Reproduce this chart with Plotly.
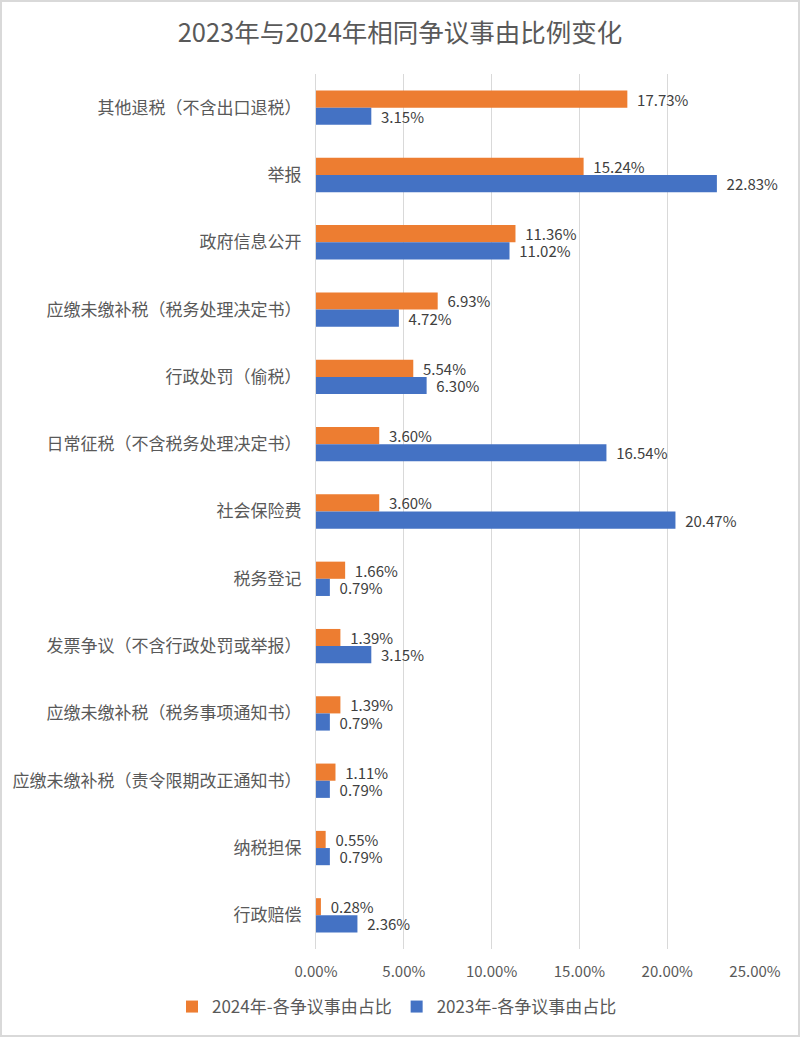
import plotly.graph_objects as go

categories = [
    "其他退税（不含出口退税）",
    "举报",
    "政府信息公开",
    "应缴未缴补税（税务处理决定书）",
    "行政处罚（偷税）",
    "日常征税（不含税务处理决定书）",
    "社会保险费",
    "税务登记",
    "发票争议（不含行政处罚或举报）",
    "应缴未缴补税（税务事项通知书）",
    "应缴未缴补税（责令限期改正通知书）",
    "纳税担保",
    "行政赔偿",
]
values_2024 = [17.73, 15.24, 11.36, 6.93, 5.54, 3.60, 3.60, 1.66, 1.39, 1.39, 1.11, 0.55, 0.28]
values_2023 = [3.15, 22.83, 11.02, 4.72, 6.30, 16.54, 20.47, 0.79, 3.15, 0.79, 0.79, 0.79, 2.36]
name_2024 = "2024年-各争议事由占比"
name_2023 = "2023年-各争议事由占比"
tick_vals = [0, 5, 10, 15, 20, 25]
tick_text = ["0.00%", "5.00%", "10.00%", "15.00%", "20.00%", "25.00%"]

FONT = "Noto Sans CJK SC"
TXT = "#595959"
PAD = "\u00a0\u00a0"

fig = go.Figure()
for name, vals, col in [(name_2024, values_2024, "#ED7D31"), (name_2023, values_2023, "#4472C4")]:
    fig.add_trace(go.Bar(
        y=categories, x=vals, name=name, orientation="h",
        marker=dict(color=col, line=dict(width=0)),
        text=[f"{PAD}{v:.2f}%" for v in vals], textposition="outside",
        constraintext="none",
        textfont=dict(size=15, color="#404040", family=FONT), cliponaxis=False,
    ))

L, R, T, B = 316, 45, 74, 88
W, H = 800, 1037
pw, ph = W - L - R, H - T - B

fig.update_layout(
    width=W, height=H,
    margin=dict(l=L, r=R, t=T, b=B),
    barmode="group", bargap=0.49, bargroupgap=0,
    paper_bgcolor="white", plot_bgcolor="white",
    font=dict(family=FONT, color=TXT, size=15),
    title=dict(text="2023年与2024年相同争议事由比例变化", x=0.5, xref="container",
               xanchor="center", y=1 - 33 / H, yref="container", yanchor="middle",
               font=dict(size=25.5, color=TXT, family=FONT)),
    legend=dict(orientation="h", x=(172 - L) / pw, xref="paper", xanchor="left",
                y=-(1007 - (H - B)) / ph, yref="paper", yanchor="middle",
                font=dict(size=17, color=TXT, family=FONT), traceorder="normal",
                itemwidth=30),
)
fig.update_xaxes(
    range=[0, 25], tickvals=tick_vals, ticktext=tick_text,
    showgrid=True, gridcolor="#D9D9D9", gridwidth=1,
    zeroline=False, showline=False, ticks="",
    tickfont=dict(size=15, color=TXT, family=FONT), ticklabelstandoff=12,
)
fig.update_yaxes(
    autorange="reversed", showline=True, linecolor="#D9D9D9", linewidth=1,
    ticks="", tickfont=dict(size=17, color=TXT, family=FONT), ticklabelstandoff=10,
)
fig.add_shape(type="rect", xref="paper", yref="paper",
              x0=-(L - 1) / pw, x1=(W - L - 1) / pw,
              y0=-(B - 1) / ph, y1=1 + (T - 1) / ph,
              line=dict(color="#D9D9D9", width=2), fillcolor="rgba(0,0,0,0)", layer="below")
fig.write_html("out.html", config={"displayModeBar": False},
               post_script="document.body.style.margin='0';document.body.style.overflow='hidden';")
